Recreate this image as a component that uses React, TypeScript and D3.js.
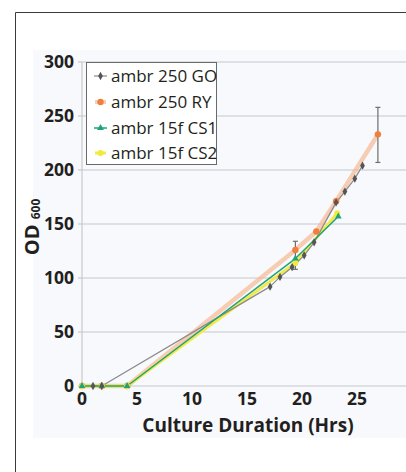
import React from "react";
import * as d3 from "d3";

// Culture duration (hrs) and OD600 readings per vessel
const goHours = [1.0, 1.8, 17.1, 18.0, 19.1, 20.2, 21.1, 23.1, 23.9, 24.8, 25.5];
const goOD = [0, 0, 92, 101, 110, 121, 133, 170, 180, 192, 204];

const ryHours = [0, 1.8, 4.1, 19.4, 21.3, 23.1, 26.9];
const ryOD = [0, 0, 0, 126, 143, 171, 233];

const cs1Hours = [0, 1.8, 4.1, 19.4, 23.3];
const cs1OD = [0, 0, 0, 118, 157];

const cs2Hours = [0, 1.8, 4.1, 19.4, 23.2];
const cs2OD = [0, 0, 0, 114, 160];

// Error bars (hrs, low, high)
const errHours = [19.4, 26.9];
const errLow = [108, 207];
const errHigh = [134, 258];

const xTicks = [0, 5, 10, 15, 20, 25];
const yTicks = [0, 50, 100, 150, 200, 250, 300];
const seriesNames = ["ambr 250 GO", "ambr 250 RY", "ambr 15f CS1", "ambr 15f CS2"];

const FONT = "'Open Sans', 'DejaVu Sans', sans-serif";

export default function App() {
  const width = 406;
  const height = 472;
  const x = d3.scaleLinear().domain([0, 30]).range([82, 412]);
  const y = d3.scaleLinear().domain([0, 300]).range([386, 62]);

  const zip = (xs: number[], ys: number[]) => xs.map((h, i) => [h, ys[i]] as [number, number]);
  const line = d3
    .line<[number, number]>()
    .x((d) => x(d[0]))
    .y((d) => y(d[1]));

  const go = zip(goHours, goOD);
  const ry = zip(ryHours, ryOD);
  const cs1 = zip(cs1Hours, cs1OD);
  const cs2 = zip(cs2Hours, cs2OD);

  const diamond = d3.symbol().type(d3.symbolDiamond).size(20)() as string;
  const tri = d3.symbol().type(d3.symbolTriangle).size(20)() as string;

  const legendY = [76, 102, 128, 153];

  return (
    <svg
      width={width}
      height={height}
      style={{ position: "absolute", left: 0, top: 0, display: "block" }}
    >
      <rect x={0} y={0} width={width} height={height} fill="#ffffff" />
      {/* outer frame */}
      <path d={`M15.5,${height + 2} V12.5 H${width + 2}`} fill="none" stroke="#3a3a3a" strokeWidth={1} />
      {/* plot panel */}
      <rect x={33} y={50} width={width - 33} height={388} fill="#f7f9fc" />

      {/* gridlines */}
      {yTicks.map((t) => (
        <line key={t} x1={x(0)} x2={width} y1={y(t)} y2={y(t)} stroke="#c8c8cc" strokeWidth={1.2} />
      ))}
      {/* axes */}
      <line x1={x(0)} x2={x(0)} y1={y(300)} y2={y(0)} stroke="#c8c8cc" strokeWidth={1.2} />
      {yTicks.map((t) => (
        <line key={"yt" + t} x1={x(0) - 4} x2={x(0)} y1={y(t)} y2={y(t)} stroke="#c8c8cc" strokeWidth={1.2} />
      ))}

      {/* y tick labels */}
      {yTicks.map((t) => (
        <text
          key={"yl" + t}
          x={74}
          y={y(t)}
          dy="0.35em"
          textAnchor="end"
          fontFamily={FONT}
          fontWeight={700}
          fontSize={17.5}
          fill="#231f20"
        >
          {t}
        </text>
      ))}
      {/* x tick labels */}
      {xTicks.map((t) => (
        <text
          key={"xl" + t}
          x={x(t)}
          y={405}
          textAnchor="middle"
          fontFamily={FONT}
          fontWeight={700}
          fontSize={17.5}
          fill="#231f20"
        >
          {t}
        </text>
      ))}

      {/* axis titles */}
      <text
        x={248}
        y={432}
        textAnchor="middle"
        fontFamily={FONT}
        fontWeight={700}
        fontSize={19}
        fill="#231f20"
      >
        Culture Duration (Hrs)
      </text>
      <text
        transform="translate(39,227) rotate(-90)"
        textAnchor="middle"
        fontFamily={FONT}
        fontWeight={700}
        fill="#231f20"
      >
        <tspan fontSize={20}>OD </tspan>
        <tspan fontSize={12} dy={1}>600</tspan>
      </text>

      {/* series lines */}
      <path d={line(ry) || ""} fill="none" stroke="#f8b48c" strokeOpacity={0.65} strokeWidth={4.5} strokeLinejoin="round" />
      <path d={line(cs2) || ""} fill="none" stroke="#f2ea4a" strokeWidth={3} strokeLinejoin="round" />
      <path d={line(go) || ""} fill="none" stroke="#8a8a8a" strokeWidth={1.2} strokeLinejoin="round" />
      <path d={line(cs1) || ""} fill="none" stroke="#1ea37a" strokeWidth={1.5} strokeLinejoin="round" />

      {/* error bars */}
      {errHours.map((h, i) => (
        <g key={"e" + i} stroke="#6e6e6e" strokeWidth={1.2}>
          <line x1={x(h)} x2={x(h)} y1={y(errLow[i])} y2={y(errHigh[i])} />
          <line x1={x(h) - 2.5} x2={x(h) + 2.5} y1={y(errLow[i])} y2={y(errLow[i])} />
          <line x1={x(h) - 2.5} x2={x(h) + 2.5} y1={y(errHigh[i])} y2={y(errHigh[i])} />
        </g>
      ))}

      {/* markers */}
      {ry.map((d, i) => (
        <circle key={"r" + i} cx={x(d[0])} cy={y(d[1])} r={3.2} fill="#f07f3e" />
      ))}
      {cs2.map((d, i) => (
        <circle key={"c2" + i} cx={x(d[0])} cy={y(d[1])} r={3} fill="#f2e93a" />
      ))}
      {cs1.map((d, i) => (
        <path key={"c1" + i} d={tri} transform={`translate(${x(d[0])},${y(d[1])})`} fill="#1ea37a" />
      ))}
      {go.map((d, i) => (
        <path key={"g" + i} d={diamond} transform={`translate(${x(d[0])},${y(d[1])})`} fill="#555558" />
      ))}

      {/* legend */}
      <rect x={86.5} y={62.5} width={130} height={102} fill="#ffffff" stroke="#6a6a6a" strokeWidth={1} />
      {seriesNames.map((name, i) => (
        <g key={name} transform={`translate(0,${legendY[i]})`}>
          {i === 0 && (
            <g>
              <line x1={94} x2={107} y1={0} y2={0} stroke="#8a8a8a" strokeWidth={1.2} />
              <path d={diamond} transform="translate(100.5,0)" fill="#555558" />
            </g>
          )}
          {i === 1 && (
            <g>
              <line x1={95} x2={106} y1={0} y2={0} stroke="#f8b48c" strokeOpacity={0.65} strokeWidth={4} />
              <circle cx={100.5} cy={0} r={3.2} fill="#f07f3e" />
            </g>
          )}
          {i === 2 && (
            <g>
              <line x1={94} x2={107} y1={0} y2={0} stroke="#1ea37a" strokeWidth={1.5} />
              <path d={tri} transform="translate(100.5,0)" fill="#1ea37a" />
            </g>
          )}
          {i === 3 && (
            <g>
              <line x1={95} x2={106} y1={0} y2={0} stroke="#f2ea4a" strokeWidth={3} />
              <circle cx={100.5} cy={0} r={3} fill="#f2e93a" />
            </g>
          )}
          <text x={111} y={0} dy="0.35em" fontFamily={FONT} fontSize={17} fill="#231f20">
            {name}
          </text>
        </g>
      ))}
    </svg>
  );
}
